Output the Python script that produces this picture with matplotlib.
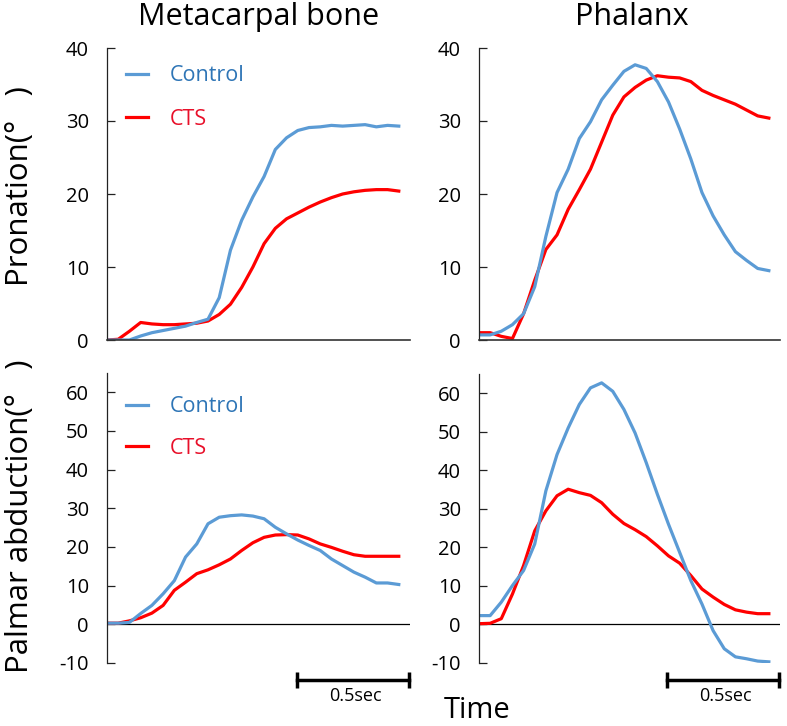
import matplotlib
matplotlib.use("Agg")
import matplotlib.pyplot as plt

plt.rcParams['font.family'] = ['Open Sans', 'DejaVu Sans']
plt.rcParams['axes.unicode_minus'] = False

# time axis (s), sampled every 0.05 s
time = [round(0.05 * i, 2) for i in range(27)]

# Pronation, metacarpal bone
pron_meta_control = [0, 0, 0, 0.55, 1.0, 1.3, 1.6, 1.9, 2.4, 2.85, 5.8, 12.3, 16.4, 19.6,
                     22.4, 26.1, 27.7, 28.7, 29.1, 29.2, 29.4, 29.3, 29.4, 29.5, 29.2, 29.4, 29.3]
pron_meta_cts = [0, 0.1, 1.2, 2.4, 2.2, 2.1, 2.1, 2.2, 2.3, 2.6, 3.5, 4.9, 7.2, 10.0,
                 13.2, 15.3, 16.6, 17.4, 18.2, 18.9, 19.5, 20.0, 20.3, 20.5, 20.6, 20.6, 20.4]

# Pronation, phalanx
pron_phal_control = [0.7, 0.7, 1.2, 2.1, 3.6, 7.3, 14.2, 20.2, 23.4, 27.6, 29.9, 32.9, 34.9, 36.8,
                     37.7, 37.2, 35.4, 32.6, 28.9, 24.8, 20.2, 17.0, 14.4, 12.1, 10.9, 9.8, 9.5]
pron_phal_cts = [1.0, 1.0, 0.5, 0.2, 3.6, 8.2, 12.4, 14.4, 17.9, 20.6, 23.4, 27.1, 30.8, 33.3,
                 34.6, 35.6, 36.2, 36.0, 35.9, 35.4, 34.2, 33.5, 32.9, 32.3, 31.5, 30.7, 30.4]

# Palmar abduction, metacarpal bone
abd_meta_control = [0.3, 0.3, 0.5, 2.8, 4.9, 7.9, 11.3, 17.4, 20.8, 26.0, 27.7, 28.1, 28.3, 28.0,
                    27.3, 25.1, 23.4, 21.8, 20.4, 19.1, 16.9, 15.2, 13.5, 12.2, 10.7, 10.7, 10.3]
abd_meta_cts = [0.3, 0.3, 0.9, 1.7, 2.9, 4.9, 8.8, 10.9, 13.1, 14.1, 15.4, 16.9, 19.1, 21.1,
                22.5, 23.1, 23.2, 23.1, 22.1, 20.8, 19.9, 18.9, 18.0, 17.6, 17.6, 17.6, 17.6]

# Palmar abduction, phalanx
abd_phal_control = [2.3, 2.3, 5.8, 10.1, 14.0, 20.9, 34.7, 44.1, 51.0, 57.1, 61.4, 62.7, 60.5, 55.8,
                    49.7, 42.0, 33.8, 26.0, 18.7, 11.4, 5.3, -1.6, -6.3, -8.4, -8.9, -9.5, -9.7]
abd_phal_cts = [0.2, 0.3, 1.5, 7.9, 15.3, 24.3, 29.5, 33.4, 35.1, 34.2, 33.5, 31.6, 28.6, 26.2,
                24.6, 22.8, 20.4, 17.8, 15.9, 12.7, 9.2, 7.1, 5.2, 3.8, 3.2, 2.8, 2.8]

blue = '#5B9BD5'
red = '#FF0000'

fig = plt.figure(figsize=(7.87, 7.26), dpi=100)
W, H = 787, 726

def add_ax(x0, x1, ytop, ybot):
    return fig.add_axes([x0 / W, 1 - ybot / H, (x1 - x0) / W, (ybot - ytop) / H])

ax_tl = add_ax(107, 410, 48, 340)
ax_tr = add_ax(479, 780, 48, 340)
ax_bl = add_ax(107, 410, 373, 663)
ax_br = add_ax(479, 780, 374, 663)

panels = [
    (ax_tl, pron_meta_control, pron_meta_cts),
    (ax_tr, pron_phal_control, pron_phal_cts),
    (ax_bl, abd_meta_control, abd_meta_cts),
    (ax_br, abd_phal_control, abd_phal_cts),
]

for ax, ctrl, cts in panels:
    ax.plot(time, cts, color=red, lw=2.3, label='CTS')
    ax.plot(time, ctrl, color=blue, lw=2.3, label='Control')
    ax.set_xlim(0, 1.35)
    ax.set_xticks([])
    for s in ['top', 'right']:
        ax.spines[s].set_visible(False)
    ax.spines['left'].set_color('#222222')
    ax.spines['left'].set_linewidth(0.9)
    ax.tick_params(axis='y', direction='in', length=6, width=0.9, pad=13,
                   labelsize=14.5, colors='#222222', labelcolor='black')

for ax in (ax_tl, ax_tr):
    ax.set_ylim(0, 40)
    ax.set_yticks([0, 10, 20, 30, 40])
    ax.spines['bottom'].set_color('#333333')
    ax.spines['bottom'].set_linewidth(1.2)

for ax in (ax_bl, ax_br):
    ax.set_ylim(-10, 65)
    ax.set_yticks([-10, 0, 10, 20, 30, 40, 50, 60])
    ax.spines['bottom'].set_visible(False)
    ax.axhline(0, color='black', lw=0.9, zorder=1)

# legends
for ax, top, spacing in ((ax_tl, 1.007, 1.05), (ax_bl, 0.987, 0.95)):
    handles, labels = ax.get_legend_handles_labels()
    leg = ax.legend(handles[::-1], labels[::-1], loc='upper left', bbox_to_anchor=(0.0, top),
                    frameon=False, fontsize=15.5, handlelength=1.0, handletextpad=1.0,
                    labelspacing=spacing)
    leg.get_texts()[0].set_color('#2E75B6')
    leg.get_texts()[1].set_color('#E8102A')

# scale bars (0.5 s) under bottom panels
scale_len = 0.5
for ax in (ax_bl, ax_br):
    x1 = ax.get_xlim()[1] - 0.005
    x0 = x1 - scale_len
    ax.plot([x0, x1], [-14.5, -14.5], color='black', lw=2.5, clip_on=False,
            marker='|', markersize=11, mew=2.5)
    ax.text((x0 + x1) / 2 + 0.01, -16.3, '0.5sec', ha='center', va='top',
            fontsize=13, clip_on=False)

fig.text(259 / W, 1 - 17 / H, 'Metacarpal bone', ha='center', va='center', fontsize=22)
fig.text(632 / W, 1 - 17 / H, 'Phalanx', ha='center', va='center', fontsize=22)
fig.text(20 / W, 1 - 186 / H, 'Pronation(°   )', ha='center', va='center',
         rotation=90, fontsize=22.5)
fig.text(20 / W, 1 - 516 / H, 'Palmar abduction(°   )', ha='center', va='center',
         rotation=90, fontsize=22.5)
fig.text(477 / W, 1 - 711 / H, 'Time', ha='center', va='center', fontsize=21)

fig.savefig('out.png', dpi=100)
